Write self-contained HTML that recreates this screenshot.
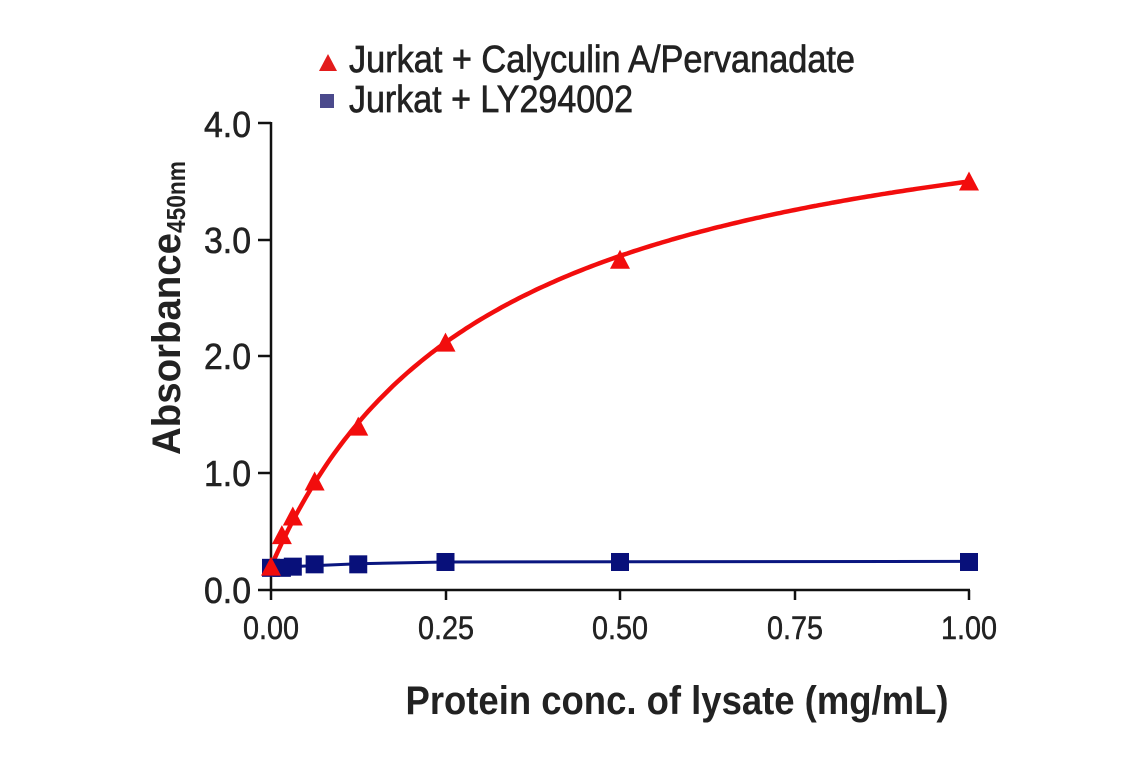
<!DOCTYPE html>
<html><head><meta charset="utf-8"><style>
html,body{margin:0;padding:0;background:#fff;}
svg{display:block;font-family:"Liberation Sans Narrow","Liberation Sans",sans-serif;}
</style></head><body>
<svg id="s" width="1141" height="768" viewBox="0 0 1141 768" xmlns="http://www.w3.org/2000/svg">
<rect width="1141" height="768" fill="#fff"/>
<polygon points="319,71 328,54 337,71" fill="#e31b1b"/>
<g fill="#222" stroke="#222" stroke-width="0.7">
<text x="349" y="72" font-size="38" textLength="506" lengthAdjust="spacingAndGlyphs">Jurkat + Calyculin A/Pervanadate</text>
<text x="349" y="112" font-size="38" textLength="284" lengthAdjust="spacingAndGlyphs">Jurkat + LY294002</text>
</g>
<rect x="320" y="94" width="14" height="14" fill="#4b4a8c"/>
<g stroke="#111" stroke-width="2.5" fill="none">
<line x1="271" y1="122" x2="271" y2="600"/>
<line x1="258" y1="590" x2="970" y2="590"/>
<line x1="258" y1="123" x2="271" y2="123"/>
<line x1="258" y1="240" x2="271" y2="240"/>
<line x1="258" y1="356" x2="271" y2="356"/>
<line x1="258" y1="473" x2="271" y2="473"/>
<line x1="446" y1="590" x2="446" y2="600"/>
<line x1="620" y1="590" x2="620" y2="600"/>
<line x1="795" y1="590" x2="795" y2="600"/>
<line x1="969" y1="590" x2="969" y2="600"/>
</g>
<g font-size="36" fill="#222" stroke="#222" stroke-width="0.6" text-anchor="end" lengthAdjust="spacingAndGlyphs">
<text x="251" y="137" textLength="47" lengthAdjust="spacingAndGlyphs">4.0</text>
<text x="251" y="253" textLength="47" lengthAdjust="spacingAndGlyphs">3.0</text>
<text x="251" y="369" textLength="47" lengthAdjust="spacingAndGlyphs">2.0</text>
<text x="251" y="486" textLength="47" lengthAdjust="spacingAndGlyphs">1.0</text>
<text x="251" y="603" textLength="47" lengthAdjust="spacingAndGlyphs">0.0</text>
</g>
<g font-size="32" fill="#222" stroke="#222" stroke-width="0.5" text-anchor="middle">
<text x="271" y="639" textLength="56" lengthAdjust="spacingAndGlyphs">0.00</text>
<text x="446" y="639" textLength="56" lengthAdjust="spacingAndGlyphs">0.25</text>
<text x="620" y="639" textLength="56" lengthAdjust="spacingAndGlyphs">0.50</text>
<text x="795" y="639" textLength="56" lengthAdjust="spacingAndGlyphs">0.75</text>
<text x="969" y="639" textLength="56" lengthAdjust="spacingAndGlyphs">1.00</text>
</g>
<text x="677" y="714" font-size="40" font-weight="bold" fill="#222" text-anchor="middle" textLength="543" lengthAdjust="spacingAndGlyphs">Protein conc. of lysate (mg/mL)</text>
<text transform="translate(180,455) rotate(-90)" font-size="40" font-weight="bold" fill="#222" textLength="222" lengthAdjust="spacingAndGlyphs">Absorbance</text>
<text transform="translate(185,233) rotate(-90)" font-size="26" font-weight="bold" fill="#222" textLength="72" lengthAdjust="spacingAndGlyphs">450nm</text>
<g id="plot"></g>
</svg>
<script>
var X=function(v){return 271+v*698},Y=function(v){return 590-v*116.7};
var g=document.getElementById('plot'),ns='http://www.w3.org/2000/svg';
function el(t,a){var e=document.createElementNS(ns,t);for(var k in a)e.setAttribute(k,a[k]);g.appendChild(e);return e;}
var d='';for(var i=0;i<=200;i++){var x=i/200,y=0.2+4.34*x/(0.315+x);d+=(i?'L':'M')+X(x).toFixed(1)+','+Y(y).toFixed(1);}
var bd='M'+X(0)+','+Y(0.19)+' L'+X(0.03)+','+Y(0.2)+' L'+X(0.125)+','+Y(0.225)+' L'+X(0.25)+','+Y(0.24)+' L'+X(1)+','+Y(0.245);
el('path',{d:bd,stroke:'#0a1680',"stroke-width":3,fill:'none'});
el('path',{d:d,stroke:'#f20d0d',"stroke-width":4.5,fill:'none'});
var bl=[[0,0.19],[0.0156,0.19],[0.03125,0.2],[0.0625,0.22],[0.125,0.22],[0.25,0.24],[0.5,0.24],[1,0.24]];
bl.forEach(function(p){el('rect',{x:X(p[0])-9,y:Y(p[1])-9,width:18,height:18,fill:'#08107a'});});
var rd=[[0,0.2],[0.0156,0.47],[0.03125,0.63],[0.0625,0.93],[0.125,1.4],[0.25,2.12],[0.5,2.83],[1,3.5]];
rd.forEach(function(p){var cx=X(p[0]),cy=Y(p[1]);el('polygon',{points:(cx-10)+','+(cy+9)+' '+cx+','+(cy-10)+' '+(cx+10)+','+(cy+9),fill:'#f20d0d'});});
</script>
</body></html>
